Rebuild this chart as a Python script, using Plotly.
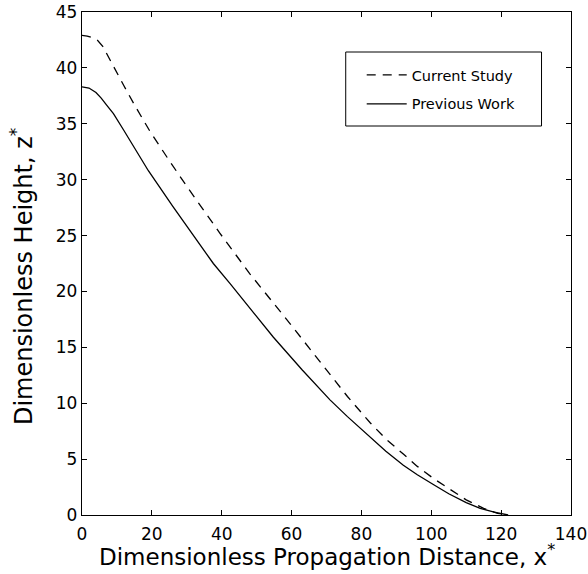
import plotly.graph_objects as go

# Data
prev_x = [0, 2, 4, 5.5, 7, 9, 12, 15, 19, 26, 37.6, 42.4, 48, 54.8, 63, 71, 76, 82.5, 87, 92, 96, 100.7, 105, 110, 114, 118, 122]
prev_y = [38.3, 38.2, 37.8, 37.3, 36.7, 35.9, 34.4, 32.9, 30.8, 27.6, 22.5, 20.7, 18.5, 15.9, 13.0, 10.3, 8.8, 7.0, 5.7, 4.45, 3.6, 2.7, 1.9, 1.1, 0.6, 0.25, 0.0]

cur_x = [0, 1.5, 3, 4.5, 6, 8, 10.7, 12, 15, 19.5, 25, 30, 39.5, 48, 59.6, 71, 76, 82.5, 87, 92, 96, 100.7, 105, 110, 115, 119, 122]
cur_y = [42.9, 42.85, 42.7, 42.45, 41.9, 40.7, 39.2, 38.4, 36.7, 34.3, 31.7, 29.4, 25.2, 21.6, 17.1, 12.65, 10.6, 8.25, 6.8, 5.45, 4.35, 3.25, 2.35, 1.35, 0.6, 0.15, 0.0]

x_ticks = [0, 20, 40, 60, 80, 100, 120, 140]
y_ticks = [0, 5, 10, 15, 20, 25, 30, 35, 40, 45]

FONT = "DejaVu Sans, Liberation Sans, Arial, sans-serif"

fig = go.Figure()
fig.add_trace(go.Scatter(x=cur_x, y=cur_y, mode="lines", name="Current Study",
                         line=dict(color="black", width=1.3, dash="9px,7px"),
                         legendgroup="a"))
fig.add_trace(go.Scatter(x=prev_x, y=prev_y, mode="lines", name="Previous Work",
                         line=dict(color="black", width=1.3),
                         legendgroup="b"))

axis_common = dict(showgrid=False, zeroline=False, showline=True, linecolor="black", linewidth=1.3,
                   mirror="ticks", ticks="inside", ticklen=5, tickwidth=1, tickcolor="black",
                   automargin=False,
                   tickfont=dict(family=FONT, size=17, color="black"))

fig.update_xaxes(range=[0, 140], tickvals=x_ticks, ticklabelstandoff=3, **axis_common)
fig.update_yaxes(range=[0, 45], tickvals=y_ticks, **axis_common)

# plot area in page pixels: x 82..571.5, y 12..515
PW, PH = 489.5, 503.0

fig.update_layout(
    width=588, height=574,
    margin=dict(l=82, r=16.5, t=12, b=59, autoexpand=False),
    paper_bgcolor="white", plot_bgcolor="white",
    font=dict(family=FONT, color="black"),
    showlegend=True,
    legend=dict(x=(362 - 82) / PW, y=(515 - 59) / PH, xanchor="left", yanchor="top",
                bgcolor="rgba(0,0,0,0)", borderwidth=0,
                font=dict(family=FONT, size=14.5, color="black"),
                tracegroupgap=7, itemwidth=40),
    shapes=[dict(type="rect", xref="paper", yref="paper",
                 x0=(346 - 82) / PW, x1=(542 - 82) / PW,
                 y0=(515 - 126) / PH, y1=(515 - 52) / PH,
                 line=dict(color="black", width=1), fillcolor="rgba(0,0,0,0)", layer="below")],
    annotations=[
        dict(text="Dimensionless Propagation Distance, x<sup>*</sup>", xref="paper", yref="paper",
             x=0.5, y=(515 - 555) / PH, xanchor="center", yanchor="middle", showarrow=False,
             font=dict(family=FONT, size=23, color="black")),
        dict(text="Dimensionless Height, z<sup>*</sup>", xref="paper", yref="paper",
             x=(22 - 82) / PW, y=(515 - 277) / PH, xanchor="center", yanchor="middle",
             textangle=-90, showarrow=False,
             font=dict(family=FONT, size=24, color="black")),
    ],
)

fig.write_html("out.html", config={"displayModeBar": False},
               post_script="document.body.style.margin='0';")
